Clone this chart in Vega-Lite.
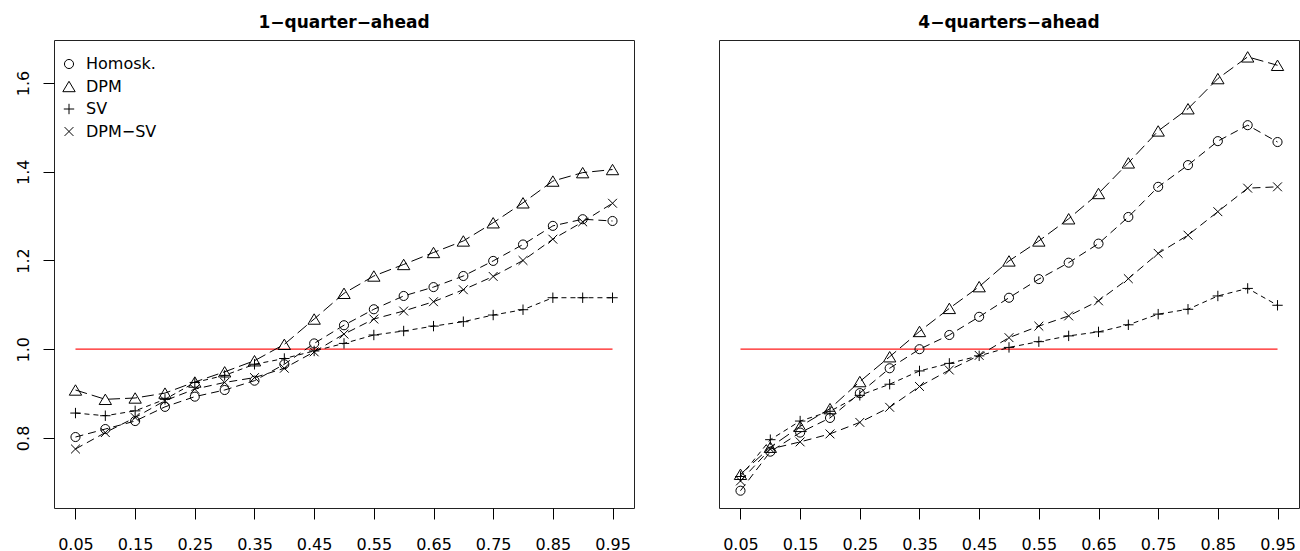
{
  "$schema": "https://vega.github.io/schema/vega-lite/v6.json",
  "padding": {"left": 14, "top": 13, "right": 0, "bottom": 0},
  "background": "white",
  "spacing": 83,
  "config": {
    "font": "DejaVu Sans",
    "view": {"stroke": "#222222", "strokeWidth": 1},
    "axis": {"domain": false, "grid": false, "tickColor": "black", "tickSize": 11, "tickWidth": 1, "labelFontSize": 16, "labelColor": "black", "labelFont": "DejaVu Sans", "title": null},
    "title": {"font": "DejaVu Sans", "fontWeight": "bold", "fontSize": 17, "anchor": "middle", "color": "black", "baseline": "alphabetic", "offset": 8}
  },
  "datasets": {
    "q1": [
      {"q":0.05,"s":"Homosk.","v":0.802},{"q":0.10,"s":"Homosk.","v":0.820},{"q":0.15,"s":"Homosk.","v":0.838},{"q":0.20,"s":"Homosk.","v":0.870},{"q":0.25,"s":"Homosk.","v":0.893},{"q":0.30,"s":"Homosk.","v":0.908},{"q":0.35,"s":"Homosk.","v":0.929},{"q":0.40,"s":"Homosk.","v":0.966},{"q":0.45,"s":"Homosk.","v":1.013},{"q":0.50,"s":"Homosk.","v":1.054},{"q":0.55,"s":"Homosk.","v":1.090},{"q":0.60,"s":"Homosk.","v":1.120},{"q":0.65,"s":"Homosk.","v":1.140},{"q":0.70,"s":"Homosk.","v":1.165},{"q":0.75,"s":"Homosk.","v":1.199},{"q":0.80,"s":"Homosk.","v":1.236},{"q":0.85,"s":"Homosk.","v":1.278},{"q":0.90,"s":"Homosk.","v":1.293},{"q":0.95,"s":"Homosk.","v":1.289},
      {"q":0.05,"s":"DPM","v":0.908},{"q":0.10,"s":"DPM","v":0.887},{"q":0.15,"s":"DPM","v":0.890},{"q":0.20,"s":"DPM","v":0.901},{"q":0.25,"s":"DPM","v":0.926},{"q":0.30,"s":"DPM","v":0.949},{"q":0.35,"s":"DPM","v":0.974},{"q":0.40,"s":"DPM","v":1.011},{"q":0.45,"s":"DPM","v":1.068},{"q":0.50,"s":"DPM","v":1.126},{"q":0.55,"s":"DPM","v":1.165},{"q":0.60,"s":"DPM","v":1.191},{"q":0.65,"s":"DPM","v":1.218},{"q":0.70,"s":"DPM","v":1.244},{"q":0.75,"s":"DPM","v":1.285},{"q":0.80,"s":"DPM","v":1.330},{"q":0.85,"s":"DPM","v":1.379},{"q":0.90,"s":"DPM","v":1.398},{"q":0.95,"s":"DPM","v":1.405},
      {"q":0.05,"s":"SV","v":0.856},{"q":0.10,"s":"SV","v":0.850},{"q":0.15,"s":"SV","v":0.861},{"q":0.20,"s":"SV","v":0.887},{"q":0.25,"s":"SV","v":0.925},{"q":0.30,"s":"SV","v":0.941},{"q":0.35,"s":"SV","v":0.966},{"q":0.40,"s":"SV","v":0.979},{"q":0.45,"s":"SV","v":0.996},{"q":0.50,"s":"SV","v":1.013},{"q":0.55,"s":"SV","v":1.032},{"q":0.60,"s":"SV","v":1.041},{"q":0.65,"s":"SV","v":1.052},{"q":0.70,"s":"SV","v":1.062},{"q":0.75,"s":"SV","v":1.077},{"q":0.80,"s":"SV","v":1.089},{"q":0.85,"s":"SV","v":1.116},{"q":0.90,"s":"SV","v":1.116},{"q":0.95,"s":"SV","v":1.116},
      {"q":0.05,"s":"DPM−SV","v":0.775},{"q":0.10,"s":"DPM−SV","v":0.812},{"q":0.15,"s":"DPM−SV","v":0.846},{"q":0.20,"s":"DPM−SV","v":0.884},{"q":0.25,"s":"DPM−SV","v":0.910},{"q":0.30,"s":"DPM−SV","v":0.925},{"q":0.35,"s":"DPM−SV","v":0.936},{"q":0.40,"s":"DPM−SV","v":0.957},{"q":0.45,"s":"DPM−SV","v":0.994},{"q":0.50,"s":"DPM−SV","v":1.034},{"q":0.55,"s":"DPM−SV","v":1.068},{"q":0.60,"s":"DPM−SV","v":1.086},{"q":0.65,"s":"DPM−SV","v":1.107},{"q":0.70,"s":"DPM−SV","v":1.134},{"q":0.75,"s":"DPM−SV","v":1.164},{"q":0.80,"s":"DPM−SV","v":1.200},{"q":0.85,"s":"DPM−SV","v":1.248},{"q":0.90,"s":"DPM−SV","v":1.287},{"q":0.95,"s":"DPM−SV","v":1.329}
    ],
    "q4": [
      {"q":0.05,"s":"Homosk.","v":0.681},{"q":0.10,"s":"Homosk.","v":0.769},{"q":0.15,"s":"Homosk.","v":0.812},{"q":0.20,"s":"Homosk.","v":0.845},{"q":0.25,"s":"Homosk.","v":0.901},{"q":0.30,"s":"Homosk.","v":0.957},{"q":0.35,"s":"Homosk.","v":1.000},{"q":0.40,"s":"Homosk.","v":1.032},{"q":0.45,"s":"Homosk.","v":1.073},{"q":0.50,"s":"Homosk.","v":1.116},{"q":0.55,"s":"Homosk.","v":1.158},{"q":0.60,"s":"Homosk.","v":1.195},{"q":0.65,"s":"Homosk.","v":1.238},{"q":0.70,"s":"Homosk.","v":1.298},{"q":0.75,"s":"Homosk.","v":1.366},{"q":0.80,"s":"Homosk.","v":1.415},{"q":0.85,"s":"Homosk.","v":1.469},{"q":0.90,"s":"Homosk.","v":1.505},{"q":0.95,"s":"Homosk.","v":1.467},
      {"q":0.05,"s":"DPM","v":0.718},{"q":0.10,"s":"DPM","v":0.779},{"q":0.15,"s":"DPM","v":0.826},{"q":0.20,"s":"DPM","v":0.866},{"q":0.25,"s":"DPM","v":0.927},{"q":0.30,"s":"DPM","v":0.983},{"q":0.35,"s":"DPM","v":1.040},{"q":0.40,"s":"DPM","v":1.092},{"q":0.45,"s":"DPM","v":1.141},{"q":0.50,"s":"DPM","v":1.199},{"q":0.55,"s":"DPM","v":1.244},{"q":0.60,"s":"DPM","v":1.294},{"q":0.65,"s":"DPM","v":1.351},{"q":0.70,"s":"DPM","v":1.420},{"q":0.75,"s":"DPM","v":1.492},{"q":0.80,"s":"DPM","v":1.542},{"q":0.85,"s":"DPM","v":1.610},{"q":0.90,"s":"DPM","v":1.659},{"q":0.95,"s":"DPM","v":1.640},
      {"q":0.05,"s":"SV","v":0.713},{"q":0.10,"s":"SV","v":0.796},{"q":0.15,"s":"SV","v":0.838},{"q":0.20,"s":"SV","v":0.860},{"q":0.25,"s":"SV","v":0.896},{"q":0.30,"s":"SV","v":0.921},{"q":0.35,"s":"SV","v":0.951},{"q":0.40,"s":"SV","v":0.968},{"q":0.45,"s":"SV","v":0.985},{"q":0.50,"s":"SV","v":1.004},{"q":0.55,"s":"SV","v":1.017},{"q":0.60,"s":"SV","v":1.030},{"q":0.65,"s":"SV","v":1.039},{"q":0.70,"s":"SV","v":1.055},{"q":0.75,"s":"SV","v":1.079},{"q":0.80,"s":"SV","v":1.090},{"q":0.85,"s":"SV","v":1.120},{"q":0.90,"s":"SV","v":1.137},{"q":0.95,"s":"SV","v":1.099},
      {"q":0.05,"s":"DPM−SV","v":0.703},{"q":0.10,"s":"DPM−SV","v":0.775},{"q":0.15,"s":"DPM−SV","v":0.791},{"q":0.20,"s":"DPM−SV","v":0.809},{"q":0.25,"s":"DPM−SV","v":0.835},{"q":0.30,"s":"DPM−SV","v":0.869},{"q":0.35,"s":"DPM−SV","v":0.916},{"q":0.40,"s":"DPM−SV","v":0.953},{"q":0.45,"s":"DPM−SV","v":0.986},{"q":0.50,"s":"DPM−SV","v":1.026},{"q":0.55,"s":"DPM−SV","v":1.052},{"q":0.60,"s":"DPM−SV","v":1.075},{"q":0.65,"s":"DPM−SV","v":1.109},{"q":0.70,"s":"DPM−SV","v":1.159},{"q":0.75,"s":"DPM−SV","v":1.216},{"q":0.80,"s":"DPM−SV","v":1.257},{"q":0.85,"s":"DPM−SV","v":1.310},{"q":0.90,"s":"DPM−SV","v":1.363},{"q":0.95,"s":"DPM−SV","v":1.366}
    ]
  },
  "hconcat": [
    {
      "width": 580,
      "height": 468,
      "title": "1−quarter−ahead",
      "data": {"name": "q1"},
      "layer": [
        {
          "data": {"values": [{"a": 0.05, "b": 0.95, "y": 1}]},
          "mark": {"type": "rule", "color": "#ff1a1a", "strokeWidth": 1.3},
          "encoding": {
            "x": {"field": "a", "type": "quantitative", "scale": {"domain": [0.014, 0.986], "nice": false, "zero": false},
                  "axis": {"values": [0.05,0.1,0.15,0.2,0.25,0.3,0.35,0.4,0.45,0.5,0.55,0.6,0.65,0.7,0.75,0.8,0.85,0.9,0.95], "labelExpr": "round(datum.value*100) % 10 == 5 ? format(datum.value, '.2f') : ''", "labelOverlap": false, "labelFlush": false, "labelPadding": 17, "labelBaseline": "top"}},
            "x2": {"field": "b"},
            "y": {"field": "y", "type": "quantitative", "scale": {"domain": [0.642, 1.697], "nice": false, "zero": false},
                  "axis": {"values": [0.8, 1.0, 1.2, 1.4, 1.6], "format": ".1f", "labelAngle": 270, "labelAlign": "center", "labelBaseline": "alphabetic", "labelPadding": 15}}
          }
        },
        {"transform": [{"filter": "datum.s == 'Homosk.'"}], "mark": {"type": "line", "color": "black", "strokeWidth": 1, "strokeDash": [8, 5]}, "encoding": {"x": {"field": "q", "type": "quantitative"}, "y": {"field": "v", "type": "quantitative"}}},
        {"transform": [{"filter": "datum.s == 'DPM'"}], "mark": {"type": "line", "color": "black", "strokeWidth": 1, "strokeDash": [12, 5]}, "encoding": {"x": {"field": "q", "type": "quantitative"}, "y": {"field": "v", "type": "quantitative"}}},
        {"transform": [{"filter": "datum.s == 'SV'"}], "mark": {"type": "line", "color": "black", "strokeWidth": 1, "strokeDash": [5, 4]}, "encoding": {"x": {"field": "q", "type": "quantitative"}, "y": {"field": "v", "type": "quantitative"}}},
        {"transform": [{"filter": "datum.s == 'DPM−SV'"}], "mark": {"type": "line", "color": "black", "strokeWidth": 1, "strokeDash": [8, 5]}, "encoding": {"x": {"field": "q", "type": "quantitative"}, "y": {"field": "v", "type": "quantitative"}}},
        {
          "mark": {"type": "point", "filled": false, "color": "black", "strokeWidth": 1, "opacity": 1, "size": 169},
          "encoding": {
            "x": {"field": "q", "type": "quantitative"},
            "y": {"field": "v", "type": "quantitative"},
            "shape": {"field": "s", "type": "nominal", "scale": {"domain": ["Homosk.", "DPM", "SV", "DPM−SV"], "range": ["M0.7,0A0.7,0.7 0 1,1 -0.7,0A0.7,0.7 0 1,1 0.7,0Z", "M0,-0.8L0.95,0.8L-0.95,0.8Z", "M-0.8,0H0.8M0,-0.8V0.8", "M-0.68,-0.68L0.68,0.68M-0.68,0.68L0.68,-0.68"]},
                      "legend": {"orient": "none", "legendX": 7, "legendY": 16, "title": null, "labelFontSize": 16, "labelFont": "DejaVu Sans", "labelColor": "black", "rowPadding": 6.5, "labelOffset": 9, "padding": 0, "symbolStrokeColor": "black", "symbolStrokeWidth": 1, "symbolSize": 169, "symbolFillColor": "transparent"}}
          }
        }
      ]
    },
    {
      "width": 580,
      "height": 468,
      "title": "4−quarters−ahead",
      "data": {"name": "q4"},
      "layer": [
        {
          "data": {"values": [{"a": 0.05, "b": 0.95, "y": 1}]},
          "mark": {"type": "rule", "color": "#ff1a1a", "strokeWidth": 1.3},
          "encoding": {
            "x": {"field": "a", "type": "quantitative", "scale": {"domain": [0.014, 0.986], "nice": false, "zero": false},
                  "axis": {"values": [0.05,0.1,0.15,0.2,0.25,0.3,0.35,0.4,0.45,0.5,0.55,0.6,0.65,0.7,0.75,0.8,0.85,0.9,0.95], "labelExpr": "round(datum.value*100) % 10 == 5 ? format(datum.value, '.2f') : ''", "labelOverlap": false, "labelFlush": false, "labelPadding": 17, "labelBaseline": "top"}},
            "x2": {"field": "b"},
            "y": {"field": "y", "type": "quantitative", "scale": {"domain": [0.642, 1.697], "nice": false, "zero": false}, "axis": null}
          }
        },
        {"transform": [{"filter": "datum.s == 'Homosk.'"}], "mark": {"type": "line", "color": "black", "strokeWidth": 1, "strokeDash": [8, 5]}, "encoding": {"x": {"field": "q", "type": "quantitative"}, "y": {"field": "v", "type": "quantitative"}}},
        {"transform": [{"filter": "datum.s == 'DPM'"}], "mark": {"type": "line", "color": "black", "strokeWidth": 1, "strokeDash": [12, 5]}, "encoding": {"x": {"field": "q", "type": "quantitative"}, "y": {"field": "v", "type": "quantitative"}}},
        {"transform": [{"filter": "datum.s == 'SV'"}], "mark": {"type": "line", "color": "black", "strokeWidth": 1, "strokeDash": [5, 4]}, "encoding": {"x": {"field": "q", "type": "quantitative"}, "y": {"field": "v", "type": "quantitative"}}},
        {"transform": [{"filter": "datum.s == 'DPM−SV'"}], "mark": {"type": "line", "color": "black", "strokeWidth": 1, "strokeDash": [8, 5]}, "encoding": {"x": {"field": "q", "type": "quantitative"}, "y": {"field": "v", "type": "quantitative"}}},
        {
          "mark": {"type": "point", "filled": false, "color": "black", "strokeWidth": 1, "opacity": 1, "size": 169},
          "encoding": {
            "x": {"field": "q", "type": "quantitative"},
            "y": {"field": "v", "type": "quantitative"},
            "shape": {"field": "s", "type": "nominal", "scale": {"domain": ["Homosk.", "DPM", "SV", "DPM−SV"], "range": ["M0.7,0A0.7,0.7 0 1,1 -0.7,0A0.7,0.7 0 1,1 0.7,0Z", "M0,-0.8L0.95,0.8L-0.95,0.8Z", "M-0.8,0H0.8M0,-0.8V0.8", "M-0.68,-0.68L0.68,0.68M-0.68,0.68L0.68,-0.68"]}, "legend": null}
          }
        }
      ]
    }
  ]
}
